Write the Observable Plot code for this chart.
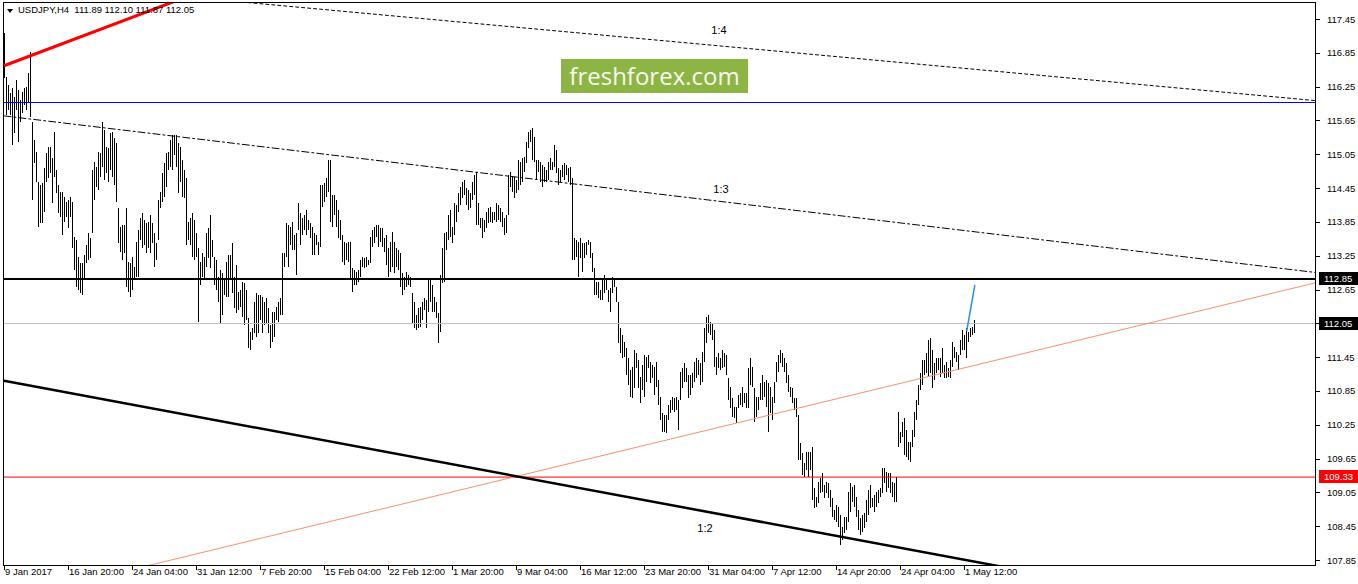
<!DOCTYPE html>
<html><head><meta charset="utf-8">
<script src="https://cdn.jsdelivr.net/npm/d3@7"></script>
<script src="https://cdn.jsdelivr.net/npm/@observablehq/plot@0.6"></script>
<style>
body{margin:0;background:#fff;}
#wrap{position:relative;width:1358px;height:584px;overflow:hidden;}
#tri{position:absolute;left:7px;top:9px;width:0;height:0;border-left:3px solid transparent;border-right:3px solid transparent;border-top:4px solid #000;}
#title{position:absolute;left:18px;top:4px;font:9.5px "Liberation Sans",Arial,sans-serif;line-height:12px;color:#000;white-space:pre;}
#badge{position:absolute;left:561px;top:59px;width:187px;height:34px;background:#8db543;color:#f8f8f0;font:24px "Open Sans",sans-serif;text-align:center;line-height:34px;}
</style></head>
<body><div id="wrap"><div id="chart"></div><div id="tri"></div><div id="title">USDJPY,H4  111.89 112.10 111.87 112.05</div><div id="badge">freshforex.com</div></div>
<script>
const highs = [
117.20,116.42,116.28,116.14,116.23,116.07,116.37,116.19,116.01,116.16,
116.23,116.24,116.49,116.86,115.62,115.30,115.09,114.56,114.50,114.54,
114.81,115.07,115.18,115.18,114.98,115.45,114.77,114.50,114.38,114.38,
114.29,114.20,114.24,114.29,114.20,113.58,113.53,113.23,113.12,113.12,
113.26,113.44,113.65,113.56,114.77,114.91,114.82,115.09,115.07,115.62,
115.48,115.18,115.16,115.43,115.45,115.34,115.25,114.10,113.76,113.79,
113.79,114.10,113.14,113.12,113.23,113.05,113.49,113.71,113.92,114.01,
113.88,113.83,113.85,113.97,113.83,113.65,113.47,114.24,114.38,114.72,
114.89,115.07,115.09,115.30,115.39,115.39,115.39,115.25,115.18,114.95,
114.77,114.63,113.85,113.92,114.01,113.88,113.65,113.39,113.14,113.30,
113.23,113.65,113.74,113.97,113.53,113.23,113.17,112.87,113.00,112.94,
112.85,113.14,113.26,113.26,113.47,112.87,113.08,112.61,112.64,112.78,
112.76,112.64,112.14,111.90,111.97,112.43,112.59,112.55,112.55,112.52,
112.43,112.50,112.32,112.02,112.25,112.25,112.34,112.43,112.50,113.30,
113.30,113.83,113.79,113.76,113.85,113.62,113.65,114.19,114.01,113.92,
113.97,114.06,113.88,113.83,113.76,113.65,113.62,113.49,114.50,114.50,
114.54,114.63,114.95,114.95,114.33,114.33,114.24,114.06,113.88,113.62,
113.49,113.47,113.49,113.49,113.03,113.00,112.96,113.00,113.17,113.23,
113.21,113.23,113.17,113.58,113.71,113.76,113.79,113.79,113.74,113.74,
113.56,113.62,113.39,113.49,113.67,113.49,113.39,113.35,113.30,112.94,
112.87,112.96,112.91,112.87,112.59,112.43,112.20,112.32,112.34,112.43,
112.50,112.46,112.85,112.82,112.73,112.52,112.43,112.23,112.91,113.39,
113.65,113.67,113.97,114.06,113.76,114.19,114.15,114.36,114.47,114.56,
114.59,114.45,114.42,114.36,114.56,114.68,114.74,114.19,113.92,113.92,
113.88,114.03,114.10,114.12,114.03,114.03,114.19,114.15,114.10,114.03,
113.92,113.97,114.68,114.74,114.65,114.65,114.59,114.95,114.91,114.98,
115.00,115.27,115.45,115.48,115.52,115.36,114.95,114.95,114.91,114.86,
114.82,114.77,114.91,114.98,114.91,115.21,115.13,114.81,114.77,114.86,
114.89,114.86,114.81,114.82,114.63,113.56,113.53,113.49,113.56,113.47,
113.47,113.49,113.53,113.49,113.30,113.03,112.78,112.78,112.64,112.82,
112.91,112.82,112.64,112.68,112.87,112.85,112.69,112.43,111.97,111.84,
111.72,111.61,111.43,111.22,111.27,111.58,111.52,111.40,111.10,111.31,
111.49,111.45,111.49,111.36,111.31,111.27,111.36,111.04,110.74,110.46,
110.42,110.42,110.60,110.69,110.74,110.72,110.74,110.69,111.19,111.26,
111.35,111.26,111.13,111.13,111.17,111.36,111.43,111.40,111.35,111.54,
111.97,112.16,112.20,112.07,112.06,111.93,111.45,111.52,111.43,111.58,
111.52,111.49,111.08,110.92,110.72,110.56,110.56,110.78,110.81,110.92,
110.81,110.81,111.26,111.43,111.27,110.90,110.74,110.74,110.99,111.13,
111.01,111.04,110.99,110.92,110.74,111.01,111.36,111.49,111.58,111.52,
111.43,111.35,111.13,110.92,110.90,110.72,110.72,110.42,109.93,109.75,
109.57,109.77,109.77,109.77,109.85,109.13,108.97,109.24,109.31,109.39,
109.18,109.24,109.22,109.09,108.95,108.74,108.83,108.79,108.65,108.44,
108.61,108.61,109.06,109.22,109.15,109.18,108.97,108.74,108.60,108.65,
108.68,108.91,109.09,109.18,108.95,109.00,109.06,109.09,109.13,109.48,
109.48,109.41,109.39,109.39,109.24,109.22,109.32,110.48,110.12,110.30,
110.37,110.16,109.94,109.94,110.16,110.48,110.69,110.95,111.17,111.40,
111.40,111.52,111.75,111.79,111.58,111.35,111.43,111.43,111.43,111.61,
111.31,111.36,111.26,111.40,111.72,111.63,111.54,111.49,111.75,111.93,
111.84,111.97,111.90,111.97,111.99,112.10];

const lows = [
116.41,115.75,115.84,115.75,115.21,115.43,115.84,115.27,115.62,115.78,
115.92,115.84,115.96,115.71,114.24,114.90,114.56,113.76,113.83,113.83,
114.03,114.56,114.63,114.72,114.19,114.65,114.36,114.01,113.94,113.62,
113.85,113.94,113.74,113.94,113.39,113.00,112.69,112.64,112.59,112.55,
112.82,113.12,113.17,113.21,113.65,114.24,114.47,114.42,114.65,114.82,
114.59,114.72,114.56,114.77,114.65,114.50,114.20,113.47,113.32,113.17,
113.30,112.69,112.61,112.52,112.64,112.85,112.87,112.87,113.53,113.39,
113.44,113.30,113.39,113.30,113.47,113.05,113.17,113.53,114.10,114.20,
114.29,114.47,114.77,114.82,114.77,115.04,114.82,114.36,114.56,114.29,
114.27,113.44,113.53,113.44,113.23,113.17,113.23,112.07,112.73,112.87,
112.82,113.05,113.21,113.03,113.23,112.73,112.64,112.43,112.06,112.20,
112.55,112.52,112.52,112.82,112.59,112.32,112.23,112.29,112.34,112.16,
112.02,112.11,111.61,111.58,111.75,111.88,111.81,111.88,112.11,111.88,
112.02,112.06,111.88,111.61,111.72,111.81,112.11,112.07,112.20,112.20,
113.05,113.23,113.05,113.44,113.35,113.35,112.91,113.71,113.44,113.62,
113.71,113.62,113.71,113.56,113.26,113.26,113.44,113.26,113.40,114.11,
114.20,114.29,114.38,113.85,113.76,113.97,113.76,113.56,113.53,113.14,
113.08,113.17,113.14,112.85,112.61,112.73,112.73,112.78,112.87,113.05,
113.03,113.05,113.08,113.12,113.40,113.47,113.58,113.40,113.49,113.40,
113.32,113.08,112.87,112.96,113.05,112.94,113.05,113.00,112.69,112.55,
112.64,112.69,112.73,112.69,112.06,111.97,111.93,111.97,111.99,112.11,
112.29,111.97,112.25,112.43,112.25,112.25,112.14,111.70,111.90,112.76,
112.78,113.35,113.53,113.58,113.47,113.62,113.85,114.03,114.15,114.27,
114.33,114.15,114.06,114.10,114.24,114.33,113.79,113.79,113.74,113.56,
113.67,113.74,113.83,113.85,113.83,113.88,113.85,113.88,113.85,113.76,
113.62,113.65,113.97,114.47,114.38,114.27,114.36,114.42,114.50,114.56,
114.74,114.89,115.16,115.27,114.95,114.91,114.59,114.74,114.56,114.47,
114.56,114.56,114.59,114.77,114.77,114.82,114.72,114.50,114.56,114.65,
114.59,114.68,114.56,114.50,113.17,113.17,113.23,112.87,113.21,112.96,
113.21,113.26,113.44,113.21,112.96,112.55,112.55,112.50,112.46,112.46,
112.59,112.64,112.43,112.25,112.59,112.69,112.43,111.70,111.52,111.43,
111.45,111.13,110.95,110.74,110.72,110.90,111.26,110.90,110.64,110.87,
110.74,111.01,111.26,110.99,111.08,110.78,110.92,110.60,110.33,110.12,
110.12,110.10,110.33,110.46,110.51,110.48,110.51,110.16,110.69,110.90,
111.01,111.01,110.72,110.78,110.90,111.01,111.08,111.13,110.95,111.01,
111.36,111.70,111.88,111.84,111.75,111.27,111.13,111.26,111.22,111.26,
111.27,111.13,110.69,110.55,110.39,110.37,110.28,110.55,110.60,110.56,
110.64,110.55,110.55,110.95,110.92,110.30,110.39,110.51,110.69,110.69,
110.74,110.56,110.12,110.46,110.33,110.64,111.01,111.19,111.35,111.27,
111.19,110.99,110.83,110.74,110.64,110.51,110.39,109.62,109.62,109.36,
109.32,109.45,109.32,109.45,108.91,108.77,108.79,108.86,109.04,109.06,
108.95,109.04,108.95,108.79,108.61,108.56,108.52,108.44,108.12,108.20,
108.33,108.38,108.52,108.70,108.88,108.79,108.61,108.38,108.29,108.35,
108.42,108.52,108.65,108.77,108.79,108.70,108.79,108.86,108.97,109.04,
109.22,109.06,109.13,109.04,108.97,108.88,108.88,109.85,109.93,110.03,
109.71,109.68,109.62,109.59,109.85,110.03,110.33,110.60,110.87,110.95,
111.13,111.17,111.10,111.17,110.90,111.04,111.17,111.22,111.10,111.17,
111.08,111.08,111.10,111.08,111.27,111.43,111.36,111.22,111.49,111.58,
111.58,111.43,111.72,111.81,111.84,111.87];

// axis ticks
const yTicks = [117.45,116.85,116.25,115.65,115.05,114.45,113.85,113.25,112.65,112.05,111.45,110.85,110.25,109.65,109.05,108.45,107.85];
const xTickIdx = [0,32,64,96,128,160,192,224,256,288,320,352,384,416,448,480];
const xTickLabels = ["9 Jan 2017","16 Jan 20:00","24 Jan 04:00","31 Jan 12:00","7 Feb 20:00","15 Feb 04:00","22 Feb 12:00","1 Mar 20:00","9 Mar 04:00","16 Mar 12:00","23 Mar 20:00","31 Mar 04:00","7 Apr 12:00","14 Apr 20:00","24 Apr 04:00","1 May 12:00"];

// horizontal levels
const blueLevel = [115.98];
const blackLevel = [112.85];
const bidLevel = [112.05];
const redLevel = [109.33];
const priceBoxes = [{p:112.85, fill:"#000000"},{p:112.05, fill:"#000000"},{p:109.33, fill:"#ff0000"}];

// trend / fan lines (bar index, price)
const redTrend = [{i:0,p:116.63},{i:100,p:117.97}];
const fan14 = [{i:110,p:117.79},{i:656,p:116.01}];
const fan13 = [{i:0,p:115.74},{i:656,p:112.96}];
const fan12 = [{i:0,p:111.04},{i:656,p:106.70}];
const salmonTrend = [{i:0,p:107.14},{i:656,p:112.78}];
const blueTip = [{i:481.4,p:111.93},{i:485.4,p:112.73}];
const fanLabels = [{i:357.5,p:117.25,t:"1:4"},{i:358.5,p:114.43,t:"1:3"},{i:350.5,p:108.42,t:"1:2"}];

const bars = highs.map((h, i) => ({i, high: h, low: lows[i]}));
const boxed = new Set(priceBoxes.map(d => d.p.toFixed(2)));
const yTickLabels = yTicks.filter(d => !boxed.has(d.toFixed(2)));
const yMin = 107.761, yMax = 117.752;
const font = "Liberation Sans, Arial, sans-serif";

const chart = Plot.plot({
  width: 1358, height: 584,
  marginLeft: 3, marginRight: 43, marginTop: 2, marginBottom: 19,
  style: {fontFamily: font, fontSize: "9.5px", background: "transparent", overflow: "visible"},
  x: {domain: [0, 656], range: [3.5, 1315.5], axis: null},
  y: {domain: [yMin, yMax], axis: null},
  marks: [
    Plot.ruleX(bars, {x: "i", y1: "low", y2: "high", stroke: "#000", strokeWidth: 1, shapeRendering: "crispEdges"}),
    Plot.ruleY(blueLevel, {stroke: "#0000ff", strokeWidth: 1, shapeRendering: "crispEdges"}),
    Plot.ruleY(bidLevel, {stroke: "#c0c0c0", strokeWidth: 1, shapeRendering: "crispEdges"}),
    Plot.ruleY(redLevel, {stroke: "red", strokeWidth: 1}),
    Plot.line(salmonTrend, {x: "i", y: "p", stroke: "#f8906f", strokeWidth: 1, clip: true}),
    Plot.line(fan12, {x: "i", y: "p", stroke: "#000", strokeWidth: 2.5, clip: true}),
    Plot.line(fan13, {x: "i", y: "p", stroke: "#000", strokeWidth: 1, strokeDasharray: "7,3,2,3", clip: true}),
    Plot.line(fan14, {x: "i", y: "p", stroke: "#000", strokeWidth: 1, strokeDasharray: "3,3", clip: true}),
    Plot.line(redTrend, {x: "i", y: "p", stroke: "#ff0000", strokeWidth: 3, clip: true}),
    Plot.line(blueTip, {x: "i", y: "p", stroke: "#1e90ff", strokeWidth: 1.5, clip: true}),
    Plot.ruleY(blackLevel, {stroke: "#000", strokeWidth: 2, shapeRendering: "crispEdges"}),
    Plot.text(fanLabels, {x: "i", y: "p", text: "t", fill: "#000", fontSize: 11}),
    Plot.frame({stroke: "#000", shapeRendering: "crispEdges"}),
    // right price axis
    Plot.link(yTicks, {x1: 656, x2: 658, y1: d => d, y2: d => d, stroke: "#000", shapeRendering: "crispEdges"}),
    Plot.text(yTickLabels, {x: 656, y: d => d, text: d => d.toFixed(2), textAnchor: "start", dx: 11, fill: "#000"}),
    Plot.rect(priceBoxes, {x1: 657.5, x2: 680, y1: d => d.p - 0.112, y2: d => d.p + 0.112, fill: "fill", shapeRendering: "crispEdges"}),
    Plot.text(priceBoxes, {x: 656, y: "p", text: d => d.p.toFixed(2), textAnchor: "start", dx: 8, fill: "#fff"}),
    // bottom time axis
    Plot.link(xTickIdx, {x1: d => d, x2: d => d, y1: yMin, y2: yMin - 0.075, stroke: "#000", shapeRendering: "crispEdges"}),
    Plot.text(xTickIdx, {x: d => d, text: (d, k) => xTickLabels[k], frameAnchor: "bottom", textAnchor: "start", dx: 1, dy: 9, fill: "#000"})
  ]
});
document.getElementById("chart").appendChild(chart);
</script>
</body></html>
